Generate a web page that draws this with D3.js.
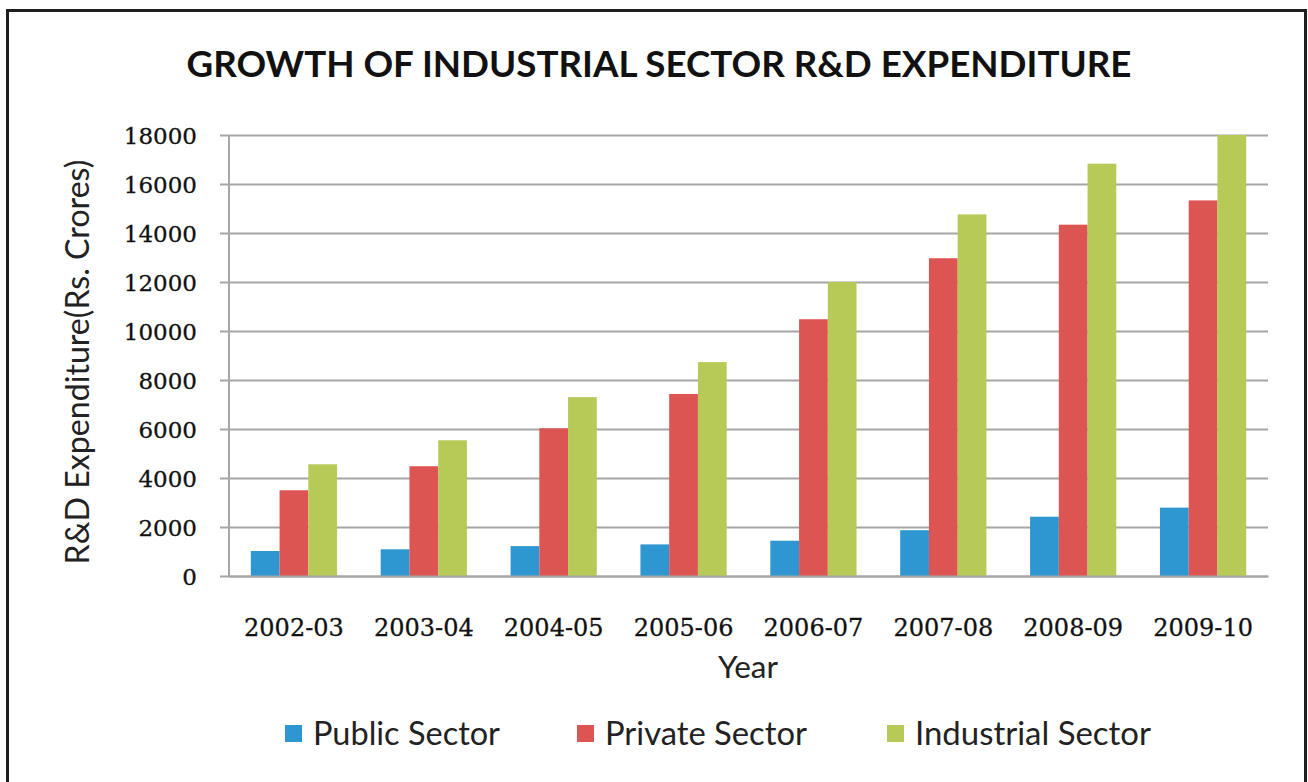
<!DOCTYPE html>
<html>
<head>
<meta charset="utf-8">
<script src="https://cdn.jsdelivr.net/npm/d3@7"></script>
<style>
  html, body { margin: 0; padding: 0; background: #ffffff; }
  svg { display: block; }
</style>
</head>
<body>
<svg id="chart" width="1308" height="782"></svg>
<script>
// R&D expenditure by sector (Rs. Crores)
const years = ["2002-03", "2003-04", "2004-05", "2005-06", "2006-07", "2007-08", "2008-09", "2009-10"];
const seriesNames = ["Public Sector", "Private Sector", "Industrial Sector"];
const publicSector = [1020, 1090, 1220, 1290, 1440, 1870, 2420, 2790];
const privateSector = [3500, 4480, 6030, 7430, 10480, 12970, 14340, 15330];
const industrialSector = [4560, 5540, 7300, 8730, 12000, 14760, 16830, 18000];
const yTicks = [0, 2000, 4000, 6000, 8000, 10000, 12000, 14000, 16000, 18000];
const colors = ["#2e96d0", "#dc5552", "#b7c957"];

const seriesValues = [publicSector, privateSector, industrialSector];
const rows = years.map((y, i) => ({ year: y, values: seriesValues.map(s => s[i]) }));

const svg = d3.select("#chart");

// Scale a text element's font size so it spans the given width
function fitWidth(sel, width) {
  const node = sel.node();
  const size = parseFloat(sel.attr("font-size"));
  const w = node.getComputedTextLength();
  sel.attr("font-size", (size * width / w).toFixed(2));
  return sel;
}

// Outer frame
svg.append("rect")
  .attr("x", 7.5).attr("y", 10.5)
  .attr("width", 1298).attr("height", 800)
  .attr("fill", "#ffffff")
  .attr("stroke", "#1e1e1e")
  .attr("stroke-width", 3);

const plot = { left: 229, right: 1268, top: 135, bottom: 576 };

const x0 = d3.scaleBand()
  .domain(years)
  .range([plot.left, plot.right])
  .paddingInner(0.336)
  .paddingOuter(0.168);

const x1 = d3.scaleBand()
  .domain(d3.range(seriesNames.length))
  .range([0, x0.bandwidth()]);

const y = d3.scaleLinear()
  .domain([0, 18000])
  .range([plot.bottom, plot.top]);

// Gridlines and ticks on the value axis
const yAxis = d3.axisLeft(y)
  .tickValues(yTicks)
  .tickSize(-(plot.right - plot.left))
  .tickSizeOuter(0)
  .tickPadding(32)
  .tickFormat(d3.format("d"));

const yG = svg.append("g")
  .attr("transform", `translate(${plot.left},0)`)
  .call(yAxis);
yG.select(".domain").remove();
yG.selectAll(".tick line")
  .attr("x1", -9)
  .attr("stroke", "#a6a6a6")
  .attr("stroke-width", 2);
yG.selectAll(".tick text")
  .attr("font-family", "'DejaVu Serif', serif")
  .attr("font-size", 23)
  .attr("fill", "#111111")
  .attr("stroke", "#111111")
  .attr("stroke-width", 0.3)
  .attr("dy", "0.36em");

// Vertical axis line
svg.append("line")
  .attr("x1", plot.left).attr("x2", plot.left)
  .attr("y1", plot.top).attr("y2", plot.bottom)
  .attr("stroke", "#a6a6a6")
  .attr("stroke-width", 2);

// Bars
const groups = svg.append("g").selectAll("g")
  .data(rows)
  .join("g")
  .attr("transform", d => `translate(${x0(d.year)},0)`);

groups.selectAll("rect")
  .data(d => d.values.map((v, i) => ({ v, i })))
  .join("rect")
  .attr("x", d => x1(d.i))
  .attr("width", x1.bandwidth())
  .attr("y", d => y(d.v))
  .attr("height", d => y(0) - y(d.v))
  .attr("fill", d => colors[d.i]);

// Category axis
const xAxis = d3.axisBottom(x0).tickSize(0).tickPadding(60);
const xG = svg.append("g")
  .attr("transform", `translate(0,${plot.bottom})`)
  .call(xAxis);
xG.select(".domain")
  .attr("stroke", "#a6a6a6")
  .attr("stroke-width", 2);
xG.selectAll(".tick text")
  .attr("font-family", "'DejaVu Serif', serif")
  .attr("font-size", 24)
  .attr("fill", "#111111")
  .attr("stroke", "#111111")
  .attr("stroke-width", 0.3)
  .attr("dy", "0");

// Title
const title = svg.append("text")
  .attr("x", 659).attr("y", 77)
  .attr("text-anchor", "middle")
  .attr("font-family", "Lato, sans-serif")
  .attr("font-weight", "bold")
  .attr("font-size", 32)
  .attr("fill", "#111111")
  .text("GROWTH OF INDUSTRIAL SECTOR R&D EXPENDITURE");
fitWidth(title, 945);

// Axis titles
const yTitle = svg.append("text")
  .attr("transform", `translate(89,362) rotate(-90)`)
  .attr("text-anchor", "middle")
  .attr("font-family", "Lato, sans-serif")
  .attr("font-size", 28)
  .attr("fill", "#222222")
  .text("R&D Expenditure(Rs. Crores)");
fitWidth(yTitle, 405);

const xTitle = svg.append("text")
  .attr("x", 748).attr("y", 678)
  .attr("text-anchor", "middle")
  .attr("font-family", "Lato, sans-serif")
  .attr("font-size", 28)
  .attr("fill", "#222222")
  .text("Year");
fitWidth(xTitle, 60);

// Legend
const legendX = [285, 577, 887];
const legendTextW = [187, 202, 236];
const legend = svg.append("g").selectAll("g")
  .data(seriesNames)
  .join("g")
  .attr("transform", (d, i) => `translate(${legendX[i]},725)`);
legend.append("rect")
  .attr("width", 17).attr("height", 17)
  .attr("fill", (d, i) => colors[i]);
legend.append("text")
  .attr("x", 28).attr("y", 20)
  .attr("font-family", "Lato, sans-serif")
  .attr("font-size", 28)
  .attr("fill", "#222222")
  .text(d => d)
  .each(function(d, i) { fitWidth(d3.select(this), legendTextW[i]); });
</script>
</body>
</html>
